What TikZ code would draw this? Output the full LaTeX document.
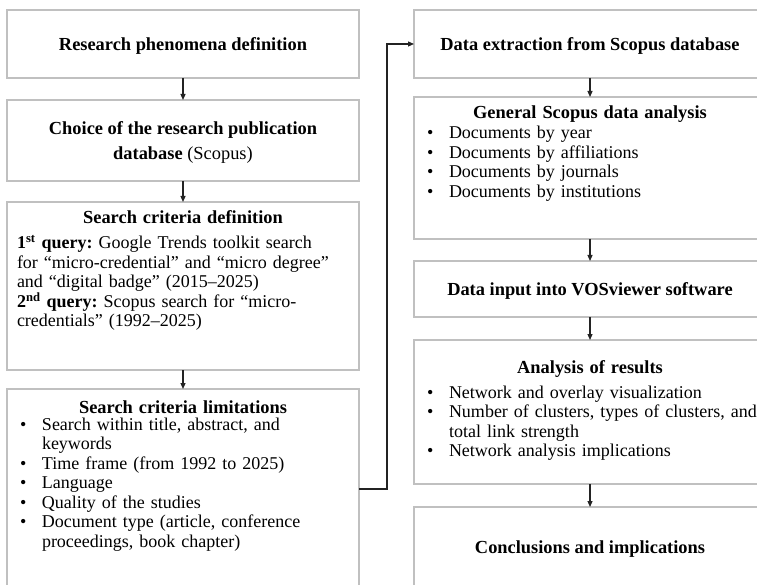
\documentclass[tikz,border=0pt]{standalone}
\usepackage{fontspec}
\setmainfont{Liberation Serif}
\usetikzlibrary{arrows.meta}
\definecolor{cboxline}{RGB}{192,192,192}
\definecolor{carrow}{RGB}{35,35,35}
\newcommand{\bitem}[1]{\par\noindent\hangindent=25pt\hangafter=1\makebox[25pt][l]{\hspace{3pt}\textbullet}#1}

\begin{document}
\begin{tikzpicture}[x=1pt,y=1pt,yscale=-1, inner sep=0pt, outer sep=0pt,
  box/.style={draw=cboxline, line width=1.2pt, minimum width=352pt},
  ttl/.style={align=center, text depth=0pt, font=\fontsize{18.4}{24.5}\selectfont\bfseries},
  txt/.style={text width=332pt, align=left, anchor=base, font=\fontsize{18}{19.5}\selectfont\frenchspacing},
  arr/.style={draw=carrow, line width=1.2pt, -{Triangle[length=6pt,width=5pt]}}]
  \useasboundingbox (0,0) rectangle (757,585);

  \node[box, ttl, minimum height=68pt] (l1) at (183,44) {Research phenomena definition};
  \node[box, ttl, minimum height=81pt] (l2) at (183,140.5) {Choice of the research publication\\
    database {\mdseries (Scopus)}};
  \node[box, minimum height=168pt] (l3) at (183,286) {};
  \node[txt] (l3text) at (183,224) {{\centering\fontsize{18.4}{19.5}\selectfont\bfseries Search criteria definition\par}\vspace{5.5pt}
    \noindent\textbf{1\textsuperscript{st} query:} Google Trends toolkit search\newline
    for “micro-credential” and “micro degree”\newline
    and “digital badge” (2015--2025)\newline
    \textbf{2\textsuperscript{nd} query:} Scopus search for “micro-\newline
    credentials” (1992--2025)\par};
  \node[box, minimum height=200pt] (l4) at (183,489) {};
  \node[txt] (l4text) at (183,413) {{\centering\fontsize{18.4}{19.5}\selectfont\bfseries Search criteria limitations\par}\vspace{-2.5pt}
    \bitem{Search within title, abstract, and\newline keywords}
    \bitem{Time frame (from 1992 to 2025)}
    \bitem{Language}
    \bitem{Quality of the studies}
    \bitem{\mbox{Document type (article, conference}\newline proceedings, book chapter)}\par};

  \node[box, ttl, minimum height=68pt] (r1) at (590,44) {Data extraction from Scopus database};
  \node[box, minimum height=142pt] (r2) at (590,168) {};
  \node[txt] (r2text) at (590,119) {{\centering\fontsize{18.4}{19.5}\selectfont\bfseries General Scopus data analysis\par}\vspace{0.5pt}
    \bitem{Documents by year}
    \bitem{Documents by affiliations}
    \bitem{Documents by journals}
    \bitem{Documents by institutions}\par};
  \node[box, ttl, minimum height=56pt] (r3) at (590,289) {Data input into VOSviewer software};
  \node[box, minimum height=144pt] (r4) at (590,412) {};
  \node[txt] (r4text) at (590,373) {{\centering\fontsize{18.4}{19.5}\selectfont\bfseries Analysis of results\par}\vspace{5.5pt}
    \bitem{Network and overlay visualization}
    \bitem{\mbox{Number of clusters, types of clusters, and}\newline total link strength}
    \bitem{Network analysis implications}\par};
  \node[box, ttl, minimum height=80pt] (r5) at (590,547) {Conclusions and implications};

  \draw[arr] (l1.south) -- (l2.north);
  \draw[arr] (l2.south) -- (l3.north);
  \draw[arr] (l3.south) -- (l4.north);
  \draw[arr] (l4.east) -- ++(28,0) |- (r1.west);
  \draw[arr] (r1.south) -- (r2.north);
  \draw[arr] (r2.south) -- (r3.north);
  \draw[arr] (r3.south) -- (r4.north);
  \draw[arr] (r4.south) -- (r5.north);
\end{tikzpicture}
\end{document}
